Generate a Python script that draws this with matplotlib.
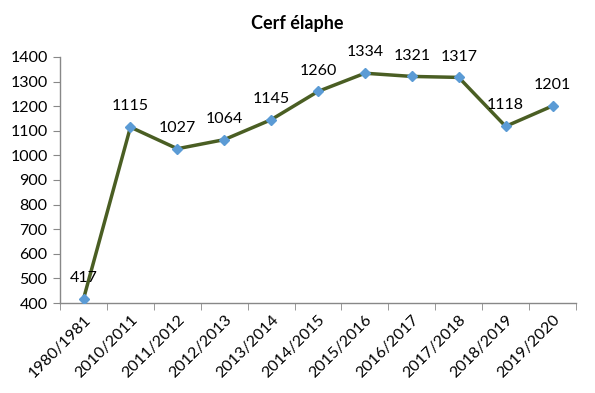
import matplotlib
matplotlib.use("Agg")
import matplotlib.pyplot as plt
import numpy as np

categories = ["1980/1981", "2010/2011", "2011/2012", "2012/2013", "2013/2014",
              "2014/2015", "2015/2016", "2016/2017", "2017/2018", "2018/2019", "2019/2020"]
values = [417, 1115, 1027, 1064, 1145, 1260, 1334, 1321, 1317, 1118, 1201]

plt.rcParams['font.family'] = ['Lato', 'DejaVu Sans']

fig = plt.figure(figsize=(5.95, 3.93), dpi=100)
ax = fig.add_axes([0.101, 0.229, 0.867, 0.626])

x = np.arange(len(categories))
ax.plot(x, values, color='#4A5E23', lw=2.5, zorder=2)
ax.plot(x, values, ls='none', marker='D', ms=5, color='#5B9BD5', zorder=3)

for xi, v in zip(x, values):
    ax.annotate(str(v), (xi, v), xytext=(0, 10), textcoords='offset points',
                ha='center', va='bottom', fontsize=11.5)

ax.set_xlim(-0.5, len(categories) - 0.5)
ax.set_ylim(400, 1400)
ax.set_yticks(np.arange(400, 1401, 100))
ax.set_xticks(x)
ax.set_xticklabels(categories, rotation=45, ha='right', rotation_mode='anchor', fontsize=11.5)
ax.tick_params(axis='x', which='major', length=0, pad=7)
ax.set_xticks(np.arange(-0.5, len(categories), 1), minor=True)
ax.tick_params(axis='x', which='minor', length=5, color='#888888', direction='out')
ax.tick_params(axis='y', length=5, color='#888888', labelsize=11.5, pad=4)

for s in ['top', 'right']:
    ax.spines[s].set_visible(False)
for s in ['left', 'bottom']:
    ax.spines[s].set_color('#888888')
    ax.spines[s].set_linewidth(1)

fig.text(0.5, 0.94, "Cerf élaphe", ha='center', va='center', fontsize=13, fontweight='bold')

fig.savefig("out.png", dpi=100)
